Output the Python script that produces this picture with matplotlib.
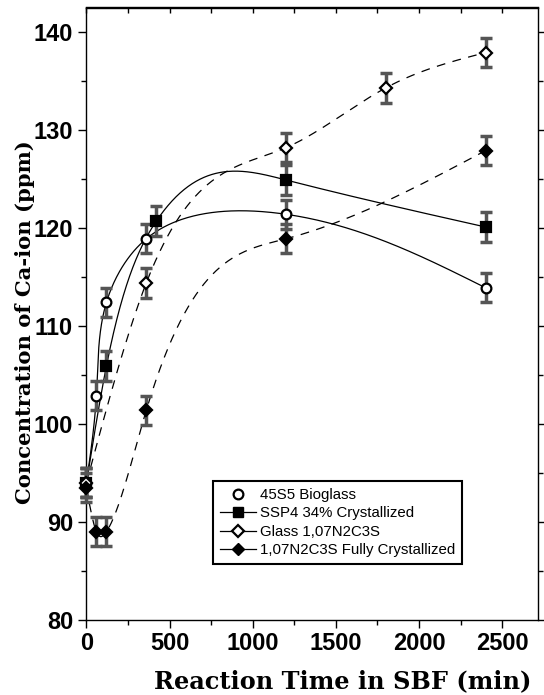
import numpy as np
import matplotlib
matplotlib.use("Agg")
import matplotlib.pyplot as plt
from matplotlib.ticker import MultipleLocator, NullFormatter
from matplotlib.lines import Line2D

# datos
labels = ["45S5 Bioglass", "SSP4 34% Crystallized", "Glass 1,07N2C3S",
          "1,07N2C3S Fully Crystallized"]
t_bio = [0, 60, 120, 360, 1200, 2400]
c_bio = [94.0, 102.9, 112.4, 118.9, 121.4, 113.9]
t_ssp = [0, 120, 420, 1200, 2400]
c_ssp = [94.0, 105.9, 120.7, 124.9, 120.1]
t_gl = [0, 360, 1200, 1800, 2400]
c_gl = [94.0, 114.4, 128.2, 134.3, 137.9]
t_fc = [0, 60, 120, 360, 1200, 2400]
c_fc = [93.5, 89.0, 89.0, 101.4, 118.9, 127.9]
err = 1.5

xmin, xmax = -5, 2715
ymin, ymax = 80, 142.5
# caja de los ejes en pixeles
L, R, T, B = 85.6, 538.0, 7.5, 620.0


def natural(u, v, us):
    # spline cubico natural v(u)
    u = np.asarray(u, float)
    v = np.asarray(v, float)
    m = len(u)
    h = np.diff(u)
    A = np.zeros((m, m))
    b = np.zeros(m)
    A[0, 0] = 1
    A[-1, -1] = 1
    for i in range(1, m - 1):
        A[i, i - 1] = h[i - 1]
        A[i, i] = 2 * (h[i - 1] + h[i])
        A[i, i + 1] = h[i]
        b[i] = 6 * ((v[i + 1] - v[i]) / h[i] - (v[i] - v[i - 1]) / h[i - 1])
    M = np.linalg.solve(A, b)
    k = np.clip(np.searchsorted(u, us) - 1, 0, m - 2)
    hk = h[k]
    a = u[k + 1] - us
    c = us - u[k]
    return (M[k] * a**3 + M[k + 1] * c**3) / (6 * hk) \
        + (v[k] / hk - M[k] * hk / 6) * a + (v[k + 1] / hk - M[k + 1] * hk / 6) * c


def spline(x, y, param=False, n=500):
    x = np.asarray(x, float)
    y = np.asarray(y, float)
    if not param:
        xs = np.linspace(x[0], x[-1], n)
        return xs, natural(x, y, xs)
    # spline parametrico en el espacio de pantalla (longitud de cuerda)
    sx = (R - L) / (xmax - xmin)
    sy = (B - T) / (ymax - ymin)
    px, py = x * sx, y * sy
    s = np.concatenate([[0], np.cumsum(np.hypot(np.diff(px), np.diff(py)))])
    ss = np.linspace(0, s[-1], n)
    return natural(s, px, ss) / sx, natural(s, py, ss) / sy


fig = plt.figure(figsize=(5.44, 6.95), dpi=100)
ax = fig.add_axes([L / 544, (695 - B) / 695, (R - L) / 544, (B - T) / 695])

series = [(t_bio, c_bio, "o", "white", "-", True),
          (t_ssp, c_ssp, "s", "black", "-", False),
          (t_gl, c_gl, "D", "white", (0, (7, 6)), False),
          (t_fc, c_fc, "D", "black", (0, (7, 6)), False)]

for t, c, mk, fc, ls, par in series:
    xs, ys = spline(t, c, par)
    ax.plot(xs, ys, color="black", lw=0.9, ls=ls, zorder=2)
    ax.errorbar(t, c, yerr=err, fmt="none", ecolor="#555555", elinewidth=2.5,
                capsize=4, capthick=2.5, zorder=3, clip_on=False)
    ax.plot(t, c, ls="none", marker=mk, ms=7 if mk != "D" else 6.5,
            mfc=fc, mec="black", mew=1.6, zorder=4, clip_on=False)

ax.set_xlim(xmin, xmax)
ax.set_ylim(ymin, ymax)
ax.xaxis.set_major_locator(MultipleLocator(500))
ax.xaxis.set_minor_locator(MultipleLocator(250))
ax.yaxis.set_major_locator(MultipleLocator(10))
ax.yaxis.set_minor_locator(MultipleLocator(5))
ax.tick_params(which="both", direction="out", width=1, labelsize=17, pad=3)
ax.tick_params(which="both", top=False, right=True)
ax.tick_params(which="major", length=6)
ax.tick_params(which="minor", length=3.5)
for lab in ax.get_xticklabels() + ax.get_yticklabels():
    lab.set_fontfamily("Liberation Sans")
    lab.set_fontweight("bold")
for s in ax.spines.values():
    s.set_linewidth(1.0)

# marcas superiores hacia dentro
top = ax.secondary_xaxis("top")
top.xaxis.set_major_locator(MultipleLocator(250))
top.xaxis.set_major_formatter(NullFormatter())
top.tick_params(direction="in", length=4, width=1)
top.spines["top"].set_linewidth(1.0)

ax.set_xlabel("Reaction Time in SBF (min)", fontsize=17.3, fontweight="bold",
              family="DejaVu Serif")
ax.set_ylabel("Concentration of Ca-ion (ppm)", fontsize=15.2, fontweight="bold",
              family="DejaVu Serif")
ax.xaxis.set_label_coords((342.5 - L) / (R - L), -(681 - B) / (B - T))
ax.yaxis.set_label_coords((25 - L) / (R - L), (B - 322) / (B - T))
ax.xaxis.label.set_va("center")
ax.yaxis.label.set_va("center")

handles = [
    Line2D([], [], ls="none", marker="o", mfc="white", mec="black", mew=1.6, ms=7),
    Line2D([], [], color="black", lw=0.9, marker="s", mfc="black", mec="black", ms=7.5),
    Line2D([], [], color="black", lw=0.9, marker="D", mfc="white", mec="black", mew=1.6, ms=6),
    Line2D([], [], color="black", lw=0.9, marker="D", mfc="black", mec="black", ms=6.5),
]
leg = ax.legend(handles, labels, loc="upper left",
                bbox_to_anchor=((213 - L) / (R - L), (B - 481) / (B - T)),
                borderaxespad=0, fancybox=False, framealpha=1, edgecolor="black",
                prop={"family": "Liberation Sans", "size": 10.8},
                handlelength=2.4, handletextpad=0.3, labelspacing=0.3,
                borderpad=0.45)
leg.get_frame().set_linewidth(1.5)

fig.savefig("out.png", dpi=100)
